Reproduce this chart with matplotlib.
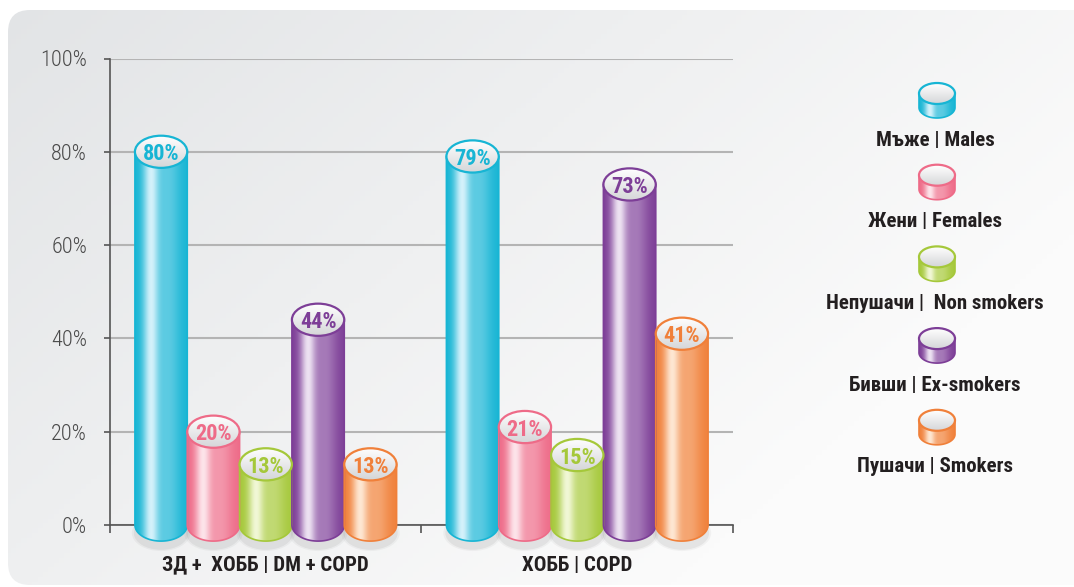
import numpy as np
import matplotlib
matplotlib.use('Agg')
import matplotlib.pyplot as plt
from matplotlib.patches import Ellipse, PathPatch, FancyBboxPatch
from matplotlib.path import Path
from matplotlib.colors import to_rgb
from matplotlib import font_manager

# Данни
groups = ['ЗД +  ХОББ | DM + COPD', 'ХОББ | COPD']
series = ['Мъже | Males', 'Жени | Females', 'Непушачи |  Non smokers',
          'Бивши | Ex-smokers', 'Пушачи | Smokers']
males = [80, 79]
females = [20, 21]
non_smokers = [13, 15]
ex_smokers = [44, 73]
smokers = [13, 41]
values = [males, females, non_smokers, ex_smokers, smokers]
yticks = [0, 20, 40, 60, 80, 100]

base_colors = ['#17b5d4', '#ee6b88', '#a5c83a', '#7d3e97', '#f0803a']
light_colors = ['#d6f2fb', '#fde5eb', '#f2f8d8', '#eee4f3', '#fee8d4']

# тесен шрифт, ако има такъв
fonts = font_manager.fontManager.ttflist
names = {f.name for f in fonts}
STRETCH = 'normal'
FONT = None
for cand in ['Liberation Sans Narrow', 'DejaVu Sans Condensed', 'Roboto Condensed',
             'Open Sans Condensed', 'Noto Sans Condensed']:
    if cand in names:
        FONT = [cand, 'DejaVu Sans']
        break
if FONT is None:
    cond = [f for f in fonts if f.name == 'DejaVu Sans' and str(f.stretch) in ('condensed', '400')]
    if cond:
        FONT = ['DejaVu Sans']
        STRETCH = 'condensed'
    else:
        FONT = ['Roboto', 'DejaVu Sans']
TXT = '#231f20'

W, H = 1074, 587
fig = plt.figure(figsize=(W / 100, H / 100), dpi=100)


def profile(n=200):
    t = np.linspace(0, 1, n)
    f = 0.95 * np.exp(-((t - 0.3) / 0.15) ** 2) + 0.35 * np.exp(-((t - 0.63) / 0.22) ** 2)
    return np.clip(f, 0, 1)


def cylinder(ax, xc, w, y0, y1, eh, base, light, z=3):
    b = np.array(to_rgb(base))
    l = np.array(to_rgb(light))
    th = np.linspace(np.pi, 2 * np.pi, 80)
    bx = xc + w / 2 * np.cos(th)
    by = y0 + eh / 2 * np.sin(th)
    verts = [(xc - w / 2, y1)] + list(zip(bx, by)) + [(xc + w / 2, y1), (xc - w / 2, y1)]
    codes = [Path.MOVETO] + [Path.LINETO] * (len(verts) - 2) + [Path.CLOSEPOLY]
    body = PathPatch(Path(verts, codes), facecolor='none', edgecolor=base,
                     lw=1.2, zorder=z + 0.2)
    ax.add_patch(body)
    body.set_clip_on(False)
    f = profile()[None, :, None]
    img = b * (1 - f) + l * f
    im = ax.imshow(img, extent=(xc - w / 2, xc + w / 2, y0 - eh / 2, y1),
                   aspect='auto', origin='lower', zorder=z, interpolation='bilinear')
    im.set_clip_path(body)
    im.set_clip_box(fig.bbox)

    top = Ellipse((xc, y1), w, eh, facecolor='none', edgecolor=base, lw=1.6, zorder=z + 0.4)
    ax.add_patch(top)
    top.set_clip_on(False)
    g = np.linspace(0, 1, 50)[:, None, None]
    timg = np.array(to_rgb('#d5d6d8')) * (1 - g) + np.array([1, 1, 1]) * g
    tim = ax.imshow(timg, extent=(xc - w / 2, xc + w / 2, y1 - eh / 2, y1 + eh / 2),
                    aspect='auto', origin='lower', zorder=z + 0.3, interpolation='bilinear')
    tim.set_clip_path(top)
    tim.set_clip_box(fig.bbox)


def shadow(ax, xc, w, y0, eh, z=2.5):
    for k, a in [(1.12, 0.035), (1.04, 0.05)]:
        e = Ellipse((xc, y0 - eh * 0.25), w * k, eh * k, facecolor='#000000',
                    edgecolor='none', alpha=a, zorder=z)
        ax.add_patch(e)
        e.set_clip_on(False)


# Фон
ax_bg = fig.add_axes([0, 0, 1, 1], zorder=-1)
ax_bg.set_xlim(0, W)
ax_bg.set_ylim(0, H)
ax_bg.axis('off')
panel = FancyBboxPatch((8, 2), 1120, 575, boxstyle='round,pad=0,rounding_size=22',
                       facecolor='none', edgecolor='none')
ax_bg.add_patch(panel)
X, Y = np.meshgrid(np.linspace(0, 1, 200), np.linspace(0, 1, 120))
s = np.clip(0.8 * X + 0.5 * (1 - Y), 0, 1)[:, :, None]
bg = np.array(to_rgb('#e2e4e6')) * (1 - s) + np.array(to_rgb('#fbfbfb')) * s
pim = ax_bg.imshow(bg, extent=(0, W, 0, H), aspect='auto', origin='lower', zorder=0)
pim.set_clip_path(panel)

# Основна графика
ax = fig.add_axes([110 / W, (H - 525) / H, 623 / W, 466.5 / H])
ax.patch.set_alpha(0)
bw = 0.168
eh = 6.9
xs = np.arange(len(groups)) + 0.5
for i, vals in enumerate(values):
    for j, v in enumerate(vals):
        xc = xs[j] + (i - 2) * bw
        shadow(ax, xc, bw, 0, eh)
        cylinder(ax, xc, bw, 0, v, eh, base_colors[i], light_colors[i], z=3 + i * 0.01)
        ax.text(xc, v, f'{v}%', ha='center', va='center_baseline', fontsize=16,
                fontweight='bold', color=base_colors[i], family=FONT,
                fontstretch=STRETCH, zorder=10)

ax.set_xlim(0, 2)
ax.set_ylim(0, 100)
ax.set_yticks(yticks)
ax.set_yticklabels([f'{t}%' for t in yticks], family=FONT, fontstretch=STRETCH,
                   fontsize=16, fontweight='light', color='#4a4a4a')
ax.set_xticks([0, 1, 2])
ax.set_xticklabels([])
ax.set_xticks(xs, minor=True)
ax.set_xticklabels(groups, minor=True, family=FONT, fontstretch=STRETCH, fontsize=15,
                   fontweight='bold', color=TXT)
ax.tick_params(axis='x', which='major', length=6, width=1.2, color='#555555', direction='out')
ax.tick_params(axis='x', which='minor', length=0, pad=22)
ax.tick_params(axis='y', length=4.5, width=1.2, color='#555555', pad=12)
for sp in ['top', 'right']:
    ax.spines[sp].set_visible(False)
for sp in ['left', 'bottom']:
    ax.spines[sp].set_color('#555555')
    ax.spines[sp].set_linewidth(1.2)
ax.yaxis.grid(True, color='#b4b4b4', lw=1.5)
ax.set_axisbelow(True)

# Легенда
for i, name in enumerate(series):
    ly = 140 + 81.7 * i
    t_top = ly - 57
    t_bot = ly - 22
    leh = 21
    cylinder(ax_bg, 937, 36, H - (t_bot - leh / 2), H - (t_top + leh / 2), leh,
             base_colors[i], light_colors[i], z=2)
    ax_bg.text(935, H - ly, name, ha='center', va='center', fontsize=15,
               fontweight='bold', color=TXT, family=FONT, fontstretch=STRETCH)

fig.savefig('out.png', dpi=100)
